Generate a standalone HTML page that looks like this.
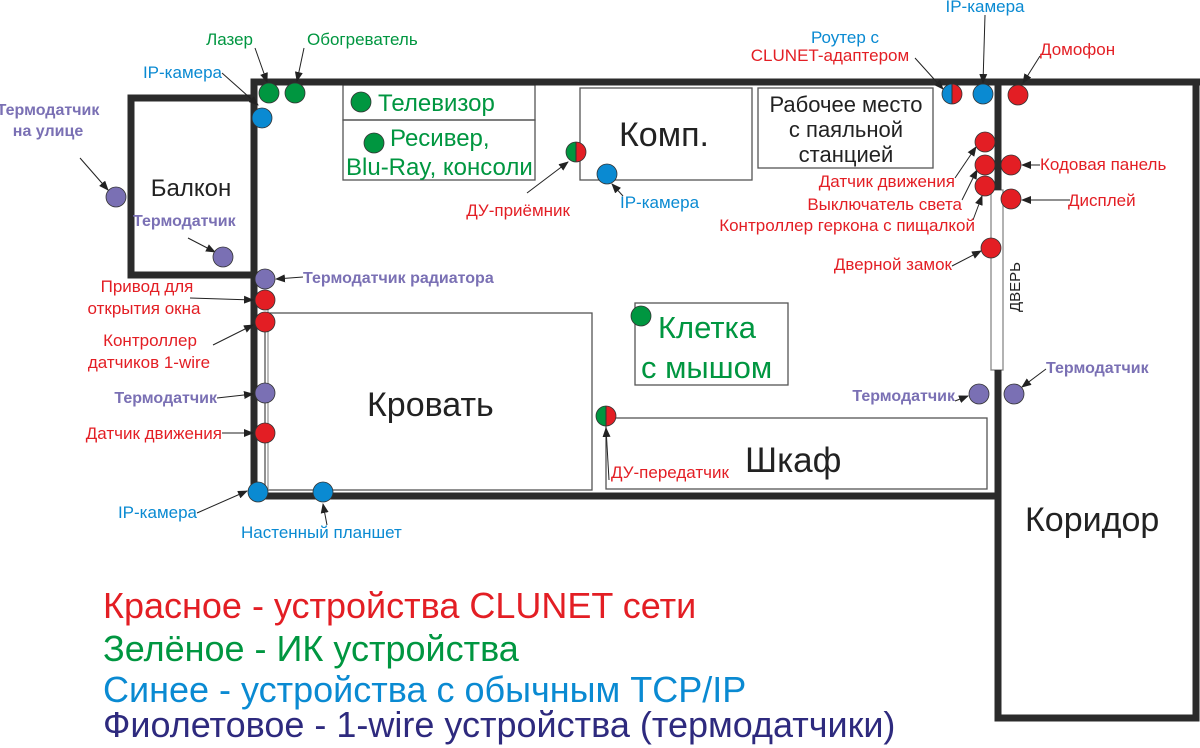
<!DOCTYPE html>
<html><head><meta charset="utf-8"><style>
html,body{margin:0;padding:0;background:#fff}
svg{display:block}
text{font-family:"Liberation Sans",sans-serif}
.r{fill:#e31e24}.g{fill:#009640}.b{fill:#0a8ad2}.p{fill:#7a70b4}.k{fill:#222}
.e{text-anchor:end}.m{text-anchor:middle}
</style></head><body>
<svg width="1200" height="748" viewBox="0 0 1200 748" xmlns="http://www.w3.org/2000/svg">
<defs><marker id="a" markerWidth="10" markerHeight="8" refX="9" refY="4" orient="auto" markerUnits="userSpaceOnUse"><path d="M0,0L10,4L0,8z" fill="#222"/></marker></defs>
<g fill="none" stroke="#555" stroke-width="1.3">
<rect x="343" y="85" width="192" height="35"/><rect x="343" y="120" width="192" height="60"/>
<rect x="580" y="88" width="172" height="92"/>
<rect x="758" y="88" width="175" height="80"/>
<rect x="265" y="313" width="327" height="177"/>
<line x1="268" y1="300" x2="268" y2="490" stroke="#999"/>
<rect x="635" y="303" width="153" height="82"/>
<rect x="606" y="418" width="381" height="71"/>
<rect x="991" y="190" width="12" height="180" stroke="#888"/>
</g>
<g fill="none" stroke="#2b2b2b" stroke-width="7">
<polyline points="254,498 254,82 1200,82"/>
<polyline points="254,98 131,98 131,275 254,275"/>
<line x1="251" y1="496" x2="998" y2="496"/>
<line x1="998" y1="82" x2="998" y2="190"/>
<polyline points="998,370 998,718 1196,718 1196,82"/>
</g>
<g stroke="#222" stroke-width="1" marker-end="url(#a)" fill="none">
<line x1="255" y1="48" x2="267" y2="82"/><line x1="304" y1="48" x2="297" y2="81"/>
<line x1="222" y1="73" x2="258" y2="105"/><line x1="80" y1="158" x2="108" y2="190"/>
<line x1="188" y1="238" x2="215" y2="252"/><line x1="303" y1="277" x2="276" y2="279"/>
<line x1="190" y1="298" x2="253" y2="300"/><line x1="213" y1="345" x2="253" y2="325"/>
<line x1="217" y1="398" x2="253" y2="394"/><line x1="222" y1="433" x2="253" y2="433"/>
<line x1="197" y1="513" x2="247" y2="491"/><line x1="327" y1="525" x2="323" y2="504"/>
<line x1="527" y1="193" x2="568" y2="162"/><line x1="623" y1="196" x2="612" y2="184"/>
<line x1="915" y1="58" x2="943" y2="89"/><line x1="985" y1="15" x2="983" y2="83"/>
<line x1="1040" y1="56" x2="1023" y2="83"/><line x1="955" y1="178" x2="976" y2="147"/>
<line x1="962" y1="200" x2="977" y2="170"/><line x1="973" y1="220" x2="982" y2="196"/>
<line x1="952" y1="266" x2="981" y2="251"/><line x1="1040" y1="165" x2="1022" y2="165"/>
<line x1="1070" y1="200" x2="1022" y2="200"/><line x1="955" y1="401" x2="968" y2="396"/>
<line x1="1046" y1="369" x2="1022" y2="387"/><line x1="609" y1="480" x2="606" y2="428"/>
</g>
<g stroke="#333" stroke-width="0.8">
<g fill="#009640"><circle cx="269" cy="93" r="10"/><circle cx="295" cy="93" r="10"/><circle cx="361" cy="102" r="10"/><circle cx="374" cy="143" r="10"/><circle cx="641" cy="316" r="10"/></g>
<g fill="#0a8ad2"><circle cx="262" cy="118" r="10"/><circle cx="607" cy="174" r="10"/><circle cx="983" cy="94" r="10"/><circle cx="258" cy="492" r="10"/><circle cx="323" cy="492" r="10"/></g>
<g fill="#e31e24"><circle cx="1018" cy="95" r="10"/><circle cx="985" cy="142" r="10"/><circle cx="985" cy="165" r="10"/><circle cx="985" cy="186" r="10"/><circle cx="1011" cy="165" r="10"/><circle cx="1011" cy="199" r="10"/><circle cx="991" cy="248" r="10"/><circle cx="265" cy="300" r="10"/><circle cx="265" cy="322" r="10"/><circle cx="265" cy="433" r="10"/></g>
<g fill="#7a70b4"><circle cx="116" cy="197" r="10"/><circle cx="223" cy="257" r="10"/><circle cx="265" cy="279" r="10"/><circle cx="265" cy="393" r="10"/><circle cx="979" cy="394" r="10"/><circle cx="1014" cy="394" r="10"/></g>
</g>
<path d="M952,84A10,10 0 0 0 952,104z" fill="#0a8ad2"/><path d="M952,84A10,10 0 0 1 952,104z" fill="#e31e24"/><circle cx="952" cy="94" r="10" fill="none" stroke="#333" stroke-width="0.8"/><line x1="952" y1="84" x2="952" y2="104" stroke="#333"/>
<path d="M576,142A10,10 0 0 0 576,162z" fill="#009640"/><path d="M576,142A10,10 0 0 1 576,162z" fill="#e31e24"/><circle cx="576" cy="152" r="10" fill="none" stroke="#333" stroke-width="0.8"/><line x1="576" y1="142" x2="576" y2="162" stroke="#333"/>
<path d="M606,406A10,10 0 0 0 606,426z" fill="#009640"/><path d="M606,406A10,10 0 0 1 606,426z" fill="#e31e24"/><circle cx="606" cy="416" r="10" fill="none" stroke="#333" stroke-width="0.8"/><line x1="606" y1="406" x2="606" y2="426" stroke="#333"/>
<g font-size="24">
<text x="378" y="111" class="g">Телевизор</text>
<text x="390" y="146" class="g">Ресивер,</text>
<text x="346" y="175" class="g">Blu-Ray, консоли</text>
<text x="619" y="146" font-size="34" class="k">Комп.</text>
<text x="846" y="112" class="m k" font-size="22">Рабочее место</text>
<text x="846" y="137" class="m k" font-size="22">с паяльной</text>
<text x="846" y="162" class="m k" font-size="22">станцией</text>
<text x="191" y="196" class="m k" font-size="24">Балкон</text>
<text x="367" y="416" font-size="34" class="k">Кровать</text>
<text x="658" y="338" font-size="31" class="g">Клетка</text>
<text x="641" y="378" font-size="31" class="g">с мышом</text>
<text x="745" y="472" font-size="35" class="k">Шкаф</text>
<text x="1025" y="531" font-size="34" class="k">Коридор</text>
<text transform="translate(1020,312) rotate(-90)" font-size="15" class="k">ДВЕРЬ</text>
</g>
<g font-size="17">
<text x="253" y="45" class="e g">Лазер</text><text x="307" y="45" class="g">Обогреватель</text>
<text x="222" y="78" class="e b">IP-камера</text>
<text x="48" y="115" class="m p" font-weight="bold" font-size="16">Термодатчик</text>
<text x="48" y="136" class="m p" font-weight="bold" font-size="16">на улице</text>
<text x="133" y="226" class="p" font-weight="bold" font-size="16">Термодатчик</text>
<text x="303" y="283" class="p" font-weight="bold" font-size="16">Термодатчик радиатора</text>
<text x="147" y="292" class="m r">Привод для</text>
<text x="144" y="314" class="m r">открытия окна</text>
<text x="150" y="346" class="m r">Контроллер</text>
<text x="149" y="368" class="m r">датчиков 1-wire</text>
<text x="217" y="403" class="e p" font-weight="bold" font-size="16">Термодатчик</text>
<text x="222" y="439" class="e r">Датчик движения</text>
<text x="197" y="518" class="e b">IP-камера</text>
<text x="241" y="538" class="b">Настенный планшет</text>
<text x="570" y="216" class="e r">ДУ-приёмник</text>
<text x="620" y="208" class="b">IP-камера</text>
<text x="845" y="43" class="m b">Роутер с</text>
<text x="830" y="61" class="m r">CLUNET-адаптером</text>
<text x="985" y="12" class="m b">IP-камера</text>
<text x="1040" y="55" class="r">Домофон</text>
<text x="955" y="187" class="e r">Датчик движения</text>
<text x="962" y="210" class="e r">Выключатель света</text>
<text x="975" y="231" class="e r">Контроллер геркона с пищалкой</text>
<text x="952" y="270" class="e r">Дверной замок</text>
<text x="1040" y="170" class="r">Кодовая панель</text>
<text x="1068" y="206" class="r">Дисплей</text>
<text x="955" y="401" class="e p" font-weight="bold" font-size="16">Термодатчик</text>
<text x="1046" y="373" class="p" font-weight="bold" font-size="16">Термодатчик</text>
<text x="611" y="478" class="r">ДУ-передатчик</text>
</g>
<g font-size="36">
<text x="103" y="618" class="r">Красное - устройства CLUNET сети</text>
<text x="103" y="661" class="g">Зелёное - ИК устройства</text>
<text x="103" y="702" class="b">Синее - устройства с обычным TCP/IP</text>
<text x="103" y="737" fill="#2e2a7e">Фиолетовое - 1-wire устройства (термодатчики)</text>
</g>
</svg>
</body></html>
